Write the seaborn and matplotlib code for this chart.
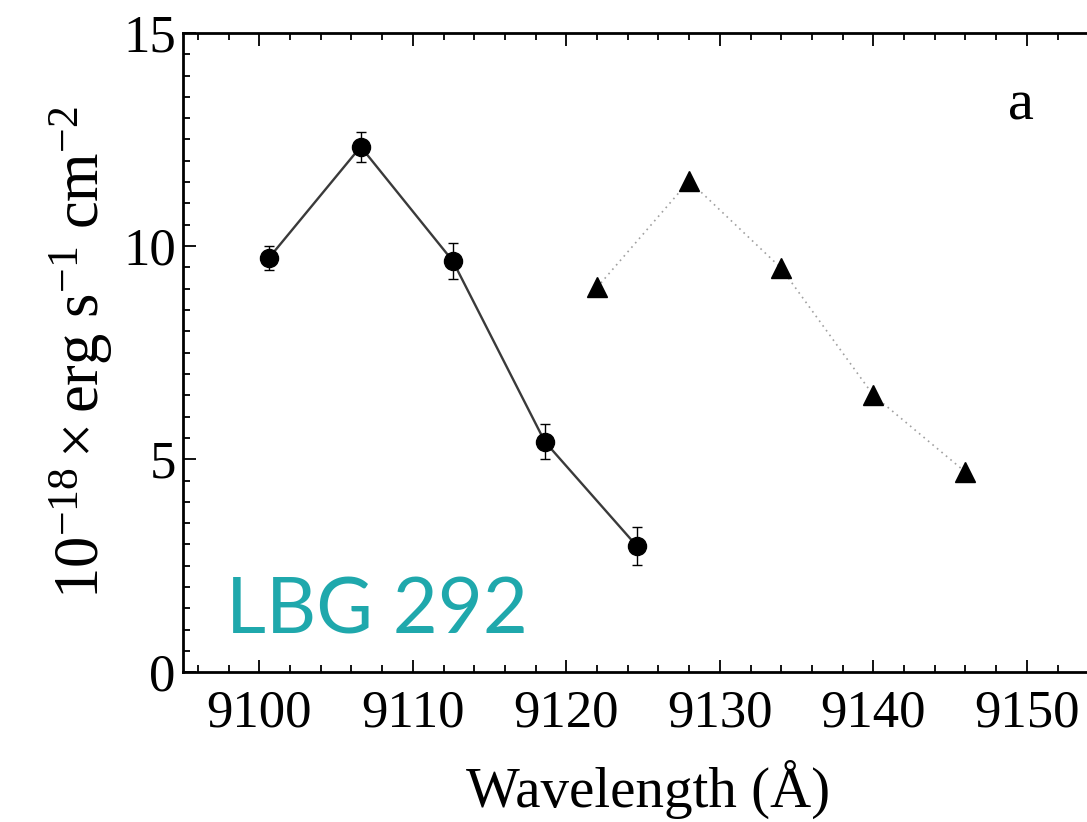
import matplotlib
matplotlib.use("Agg")
import matplotlib.pyplot as plt
import seaborn as sns
import pandas as pd
from matplotlib.ticker import MultipleLocator

# Data
circle_wl = [9100.6, 9106.6, 9112.6, 9118.6, 9124.6]
circle_flux = [9.71, 12.33, 9.65, 5.41, 2.96]
circle_err = [0.28, 0.35, 0.42, 0.41, 0.45]

tri_wl = [9122.0, 9128.0, 9134.0, 9140.0, 9146.0]
tri_flux = [9.03, 11.53, 9.48, 6.50, 4.70]

x_ticks = [9100, 9110, 9120, 9130, 9140, 9150]
y_ticks = [0, 5, 10, 15]

sns.set_style("ticks")
plt.rcParams["font.family"] = ["Liberation Serif", "DejaVu Serif"]
plt.rcParams["mathtext.fontset"] = "custom"
plt.rcParams["mathtext.rm"] = "Liberation Serif"
plt.rcParams["mathtext.it"] = "Liberation Serif:italic"
plt.rcParams["mathtext.bf"] = "Liberation Serif:bold"
plt.rcParams["text.color"] = "black"
plt.rcParams["axes.labelcolor"] = "black"
plt.rcParams["xtick.color"] = "black"
plt.rcParams["ytick.color"] = "black"

df_c = pd.DataFrame({"wl": circle_wl, "flux": circle_flux})
df_t = pd.DataFrame({"wl": tri_wl, "flux": tri_flux})

fig = plt.figure(figsize=(10.87, 8.22), dpi=100)
xmin, xmax = 9095.0, 9157.0
px_per_unit = 15.35
ax_w_px = (xmax - xmin) * px_per_unit
ax = fig.add_axes([0.168, 0.182, ax_w_px / 1087, 0.778])

sns.lineplot(data=df_t, x="wl", y="flux", ax=ax, color="#a0a0a0",
             linestyle=(0, (1, 2.5)), linewidth=1.2, marker=None, zorder=1)
ax.plot(tri_wl, tri_flux, linestyle="none", marker="^", markersize=14,
        color="black", zorder=3)

sns.lineplot(data=df_c, x="wl", y="flux", ax=ax, color="#3a3a3a",
             linewidth=1.7, zorder=2)
ax.errorbar(circle_wl, circle_flux, yerr=circle_err, fmt="none",
            ecolor="black", elinewidth=1.0, capsize=3.5, capthick=1.0, zorder=3)
ax.plot(circle_wl, circle_flux, linestyle="none", marker="o", markersize=13,
        color="black", zorder=4)

ax.set_xlim(xmin, xmax)
ax.set_ylim(0, 15)
ax.set_xticks(x_ticks)
ax.set_yticks(y_ticks)
ax.xaxis.set_minor_locator(MultipleLocator(2))
ax.yaxis.set_minor_locator(MultipleLocator(0.5))

for s in ax.spines.values():
    s.set_linewidth(2.0)
    s.set_color("black")
    s.set_visible(True)

ax.tick_params(which="both", direction="in", top=True, right=True,
               color="black", width=1.3)
ax.tick_params(which="major", length=9)
ax.tick_params(which="minor", length=5)
ax.tick_params(axis="x", which="major", labelsize=38, pad=12)
ax.tick_params(axis="y", which="major", labelsize=38, pad=5)

ax.set_xlabel("Wavelength (Å)", fontsize=41)
ax.xaxis.set_label_coords((648 - 0.168 * 1087) / ax_w_px, -0.137)
ax.set_ylabel(r"$10^{-18}\times$erg s$^{-1}$ cm$^{-2}$", fontsize=45, labelpad=6)

ax.text(9149.6, 13.3, "a", fontsize=42, ha="center", va="center")

fig.text(226 / 1087, 1 - 634 / 822, "LBG 292", fontsize=56, color="#1FA8AC",
         family=["Lato", "DejaVu Sans"], fontweight="normal",
         ha="left", va="baseline")

fig.savefig("out.png", dpi=100)
